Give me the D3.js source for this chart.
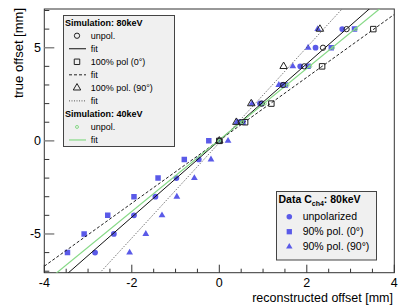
<!DOCTYPE html>
<html><head><meta charset="utf-8">
<script src="https://cdn.jsdelivr.net/npm/d3@7"></script>
<style>body{margin:0;background:#fff;} svg{display:block;} text{font-family:"Liberation Sans",Arial,sans-serif;}</style>
</head><body><svg id="c" width="407" height="307"></svg>
<script>
// ---- data ----
const trueOffsets = [-6,-5,-4,-3,-2,-1,0,1,2,3,4,5,6];
const dataUnpol  = [-2.84,-2.41,-1.95,-1.46,-0.98,-0.47,0.00,0.46,0.93,1.44,1.85,2.20,2.81];
const dataPol0   = [-3.47,-3.09,-2.55,-1.95,-1.40,-0.80,-0.24,0.54,0.96,1.51,2.03,2.56,3.09];
const dataPol90  = [-2.05,-1.68,-1.31,-0.97,-0.57,-0.19,0.20,0.40,0.75,1.36,1.68,2.03,2.25];

const simOffsetsAll = [0,1,2,3,4,5,6];
const sim80Unpol = [0,0.49,0.97,1.46,1.94,2.37,2.91];
const simOffsetsPol = [0,1,2,4,6];
const sim80Pol0  = [0,0.59,1.19,2.35,3.52];
const sim80Pol90 = [0,0.39,0.73,1.47,2.30];
const sim40Unpol = [0,0.52,1.04,1.56,2.08,2.60,3.12];

const fitNames = ["sim80unpol","sim80pol0","sim80pol90","sim40unpol"];
const fitSlopes = [2.06,1.69,2.56,1.92];
const fitIntercepts = [0.02,0.03,-0.10,0.05];

const xTicksMajor = [-4,-2,0,2,4];
const yTicksMajor = [-5,0,5];

// ---- layout ----
const svg = d3.select("#c");
const L=44.3,R=394.3,T=9,B=272.7;
const x = d3.scaleLinear().domain([-4,4]).range([L,R]);
const y = d3.scaleLinear().domain([-7.08,7.08]).range([B,T]);
const blue = "#5a5ae8", green = "#86d986";

svg.append("defs").append("clipPath").attr("id","clip")
  .append("rect").attr("x",L).attr("y",T).attr("width",R-L).attr("height",B-T);

// frame
svg.append("rect").attr("x",L).attr("y",T).attr("width",R-L).attr("height",B-T)
  .attr("fill","none").attr("stroke","#333").attr("stroke-width",1);

// x ticks
const xMinor = d3.range(-4,4.01,0.5);
svg.append("g").selectAll("line").data(xMinor).join("line")
  .attr("x1",d=>x(d)).attr("x2",d=>x(d))
  .attr("y1",B).attr("y2",d=>xTicksMajor.includes(d)?B-8:B-4)
  .attr("stroke","#333").attr("stroke-width",1);
svg.append("g").selectAll("text").data(xTicksMajor).join("text")
  .attr("x",d=>x(d)).attr("y",287).attr("text-anchor","middle")
  .attr("font-size",12.5).text(d=>d);

// y ticks
const yMinor = d3.range(-7,7.01,1);
svg.append("g").selectAll("line").data(yMinor).join("line")
  .attr("y1",d=>y(d)).attr("y2",d=>y(d))
  .attr("x1",L).attr("x2",d=>yTicksMajor.includes(d)?L+10:L+5)
  .attr("stroke",d=>yTicksMajor.includes(d)?"#888":"#333")
  .attr("stroke-width",d=>yTicksMajor.includes(d)?1.5:1);
svg.append("g").selectAll("text").data(yTicksMajor).join("text")
  .attr("x",41).attr("y",d=>y(d)+4.5).attr("text-anchor","end")
  .attr("font-size",12.5).text(d=>d);

// axis titles
svg.append("text").attr("x",393).attr("y",302).attr("text-anchor","end")
  .attr("font-size",12.5).text("reconstructed offset [mm]");
svg.append("text").attr("transform","translate(23,8) rotate(-90)")
  .attr("text-anchor","end").attr("font-size",13).text("true offset [mm]");

const plot = svg.append("g").attr("clip-path","url(#clip)");

// data markers
const sym = (type,size)=>d3.symbol().type(type).size(size)();
function drawPts(xs,ys,path,fill,stroke){
  plot.append("g").selectAll("path").data(xs.map((v,i)=>[v,ys[i]])).join("path")
    .attr("d",path).attr("transform",d=>`translate(${x(d[0])},${y(d[1])})`)
    .attr("fill",fill).attr("stroke",stroke).attr("stroke-width",1);
}
drawPts(dataPol0,trueOffsets,sym(d3.symbolSquare,30),blue,"none");
drawPts(dataUnpol,trueOffsets,sym(d3.symbolCircle,26),blue,"none");
drawPts(dataPol90,trueOffsets,sym(d3.symbolTriangle,20),blue,"none");

// fit lines
const fitStyles = [
  {stroke:"#111",dash:null,w:1},
  {stroke:"#222",dash:"3,2",w:1},
  {stroke:"#555",dash:"1,1.5",w:1},
  {stroke:green,dash:null,w:1.2}
];
fitNames.forEach((n,i)=>{
  const f = v=>fitSlopes[i]*v+fitIntercepts[i];
  plot.append("line").attr("x1",x(-4)).attr("y1",y(f(-4))).attr("x2",x(4)).attr("y2",y(f(4)))
    .attr("stroke",fitStyles[i].stroke).attr("stroke-width",fitStyles[i].w)
    .attr("stroke-dasharray",fitStyles[i].dash);
});

// sim markers
drawPts(sim80Unpol,simOffsetsAll,sym(d3.symbolCircle,22),"none","#222");
drawPts(sim80Pol0,simOffsetsPol,sym(d3.symbolSquare,30),"none","#222");
drawPts(sim80Pol90,simOffsetsPol,sym(d3.symbolTriangle,24),"none","#222");
drawPts(sim40Unpol,simOffsetsAll,sym(d3.symbolCircle,7),"none",green);

// legend 1
const lg1 = svg.append("g");
lg1.append("rect").attr("x",63.5).attr("y",15.5).attr("width",111).attr("height",131)
  .attr("fill","#f0f0f0").attr("stroke","#444").attr("stroke-width",1);
const lg1Rows = [
  {t:"Simulation: 80keV",bold:true},
  {t:"unpol.",m:"circle"},
  {t:"fit",l:0},
  {t:"100% pol (0°)",m:"square"},
  {t:"fit",l:1},
  {t:"100% pol. (90°)",m:"triangle"},
  {t:"fit",l:2},
  {t:"Simulation: 40keV",bold:true},
  {t:"unpol.",m:"gcircle"},
  {t:"fit",l:3}
];
lg1Rows.forEach((r,i)=>{
  const yy = 22.7 + i*13.03;
  if(r.bold){
    lg1.append("text").attr("x",65).attr("y",yy).attr("dy","0.35em")
      .attr("font-size",9).attr("font-weight","bold").text(r.t);
    return;
  }
  lg1.append("text").attr("x",90.7).attr("y",yy).attr("dy","0.35em").attr("font-size",9).text(r.t);
  if(r.l!==undefined){
    const s=fitStyles[r.l];
    lg1.append("line").attr("x1",69).attr("x2",86).attr("y1",yy).attr("y2",yy)
      .attr("stroke",s.stroke).attr("stroke-width",s.w).attr("stroke-dasharray",s.dash);
  } else {
    const p = r.m==="circle"?sym(d3.symbolCircle,22):r.m==="square"?sym(d3.symbolSquare,30):
              r.m==="triangle"?sym(d3.symbolTriangle,24):sym(d3.symbolCircle,7);
    lg1.append("path").attr("d",p).attr("transform",`translate(77,${yy})`)
      .attr("fill","none").attr("stroke",r.m==="gcircle"?green:"#222");
  }
});

// legend 2
const lg2 = svg.append("g");
lg2.append("rect").attr("x",276.5).attr("y",191.5).attr("width",100).attr("height",68.5)
  .attr("fill","#f0f0f0").attr("stroke","#444").attr("stroke-width",1);
const tt = lg2.append("text").attr("x",278.5).attr("y",202.5).attr("font-size",10.5).attr("font-weight","bold");
tt.append("tspan").text("Data C");
tt.append("tspan").attr("font-size",7).attr("dy",3).text("ch4");
tt.append("tspan").attr("dy",-3).text(": 80keV");
const lg2Rows = [
  {t:"unpolarized",p:sym(d3.symbolCircle,24)},
  {t:"90% pol. (0°)",p:sym(d3.symbolSquare,28)},
  {t:"90% pol. (90°)",p:sym(d3.symbolTriangle,18)}
];
lg2Rows.forEach((r,i)=>{
  const yy = 216.7 + i*15;
  lg2.append("path").attr("d",r.p).attr("transform",`translate(289.3,${yy})`).attr("fill",blue);
  lg2.append("text").attr("x",302.7).attr("y",yy).attr("dy","0.35em").attr("font-size",10.5).text(r.t);
});
</script></body></html>
